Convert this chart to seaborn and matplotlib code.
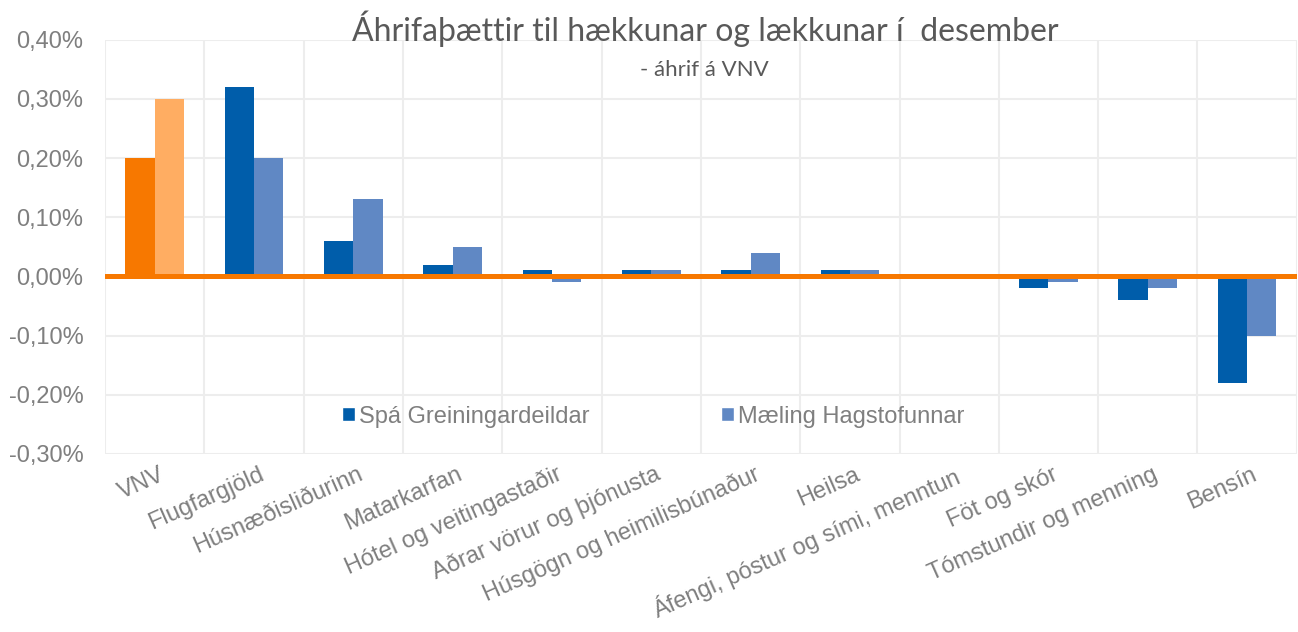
import numpy as np
import pandas as pd
import matplotlib
matplotlib.use("Agg")
import matplotlib.pyplot as plt
from matplotlib.patches import Patch
import seaborn as sns

# data (percent of CPI)
categories = ["VNV", "Flugfargjöld", "Húsnæðisliðurinn", "Matarkarfan",
              "Hótel og veitingastaðir", "Aðrar vörur og þjónusta",
              "Húsgögn og heimilisbúnaður", "Heilsa",
              "Áfengi, póstur og sími, menntun", "Föt og skór",
              "Tómstundir og menning", "Bensín"]
spa = [0.20, 0.32, 0.06, 0.02, 0.01, 0.01, 0.01, 0.01, 0.0, -0.02, -0.04, -0.18]
maeling = [0.30, 0.20, 0.13, 0.05, -0.01, 0.01, 0.04, 0.01, 0.0, -0.01, -0.02, -0.10]
series_names = ["Spá Greiningardeildar", "Mæling Hagstofunnar"]
yticks = [-0.30, -0.20, -0.10, 0.0, 0.10, 0.20, 0.30, 0.40]

dark_blue = "#005DAA"
light_blue = "#6088C4"
orange = "#F77800"
light_orange = "#FFAD62"
grid_col = "#EDEDED"
text_col = "#7F7F7F"

df = pd.DataFrame({
    "flokkur": categories * 2,
    "rod": [series_names[0]] * len(categories) + [series_names[1]] * len(categories),
    "gildi": spa + maeling,
})

sns.set_style("white")
plt.rcParams["font.family"] = ["Liberation Sans", "DejaVu Sans"]

fig = plt.figure(figsize=(12.98, 6.32), dpi=100)
ax = fig.add_axes([0.081, 0.282, 0.918, 0.655])

sns.barplot(data=df, x="flokkur", y="gildi", hue="rod", order=categories,
            hue_order=series_names, palette=[dark_blue, light_blue],
            width=0.59, gap=0, linewidth=0, saturation=1, ax=ax, legend=False)

# VNV bars are orange in the original
ax.containers[0][0].set_facecolor(orange)
ax.containers[1][0].set_facecolor(light_orange)

ax.set_xlim(-0.5, len(categories) - 0.5)
ax.set_ylim(-0.30, 0.40)
ax.set_yticks(yticks)
ax.set_yticklabels([f"{v:.2f}%".replace(".", ",") for v in yticks])
ax.set_xticks(range(len(categories)))
ax.set_xticklabels(categories, rotation=24, ha="right", rotation_mode="anchor")
ax.set_xticks(np.arange(-0.5, len(categories), 1.0), minor=True)

ax.tick_params(axis="both", which="both", length=0, colors=text_col)
ax.tick_params(axis="y", labelsize=17, pad=15.5)
ax.tick_params(axis="x", labelsize=17, pad=7)
for t in ax.get_xticklabels():
    t.set_transform(t.get_transform() + matplotlib.transforms.ScaledTranslation(0.04, 0, fig.dpi_scale_trans))

ax.grid(axis="y", which="major", color=grid_col, lw=1.5)
ax.grid(axis="x", which="minor", color=grid_col, lw=1.5)
ax.grid(axis="x", which="major", visible=False)
ax.set_axisbelow(True)
for s in ax.spines.values():
    s.set_visible(False)

ax.axhline(0, color=orange, lw=3.6, zorder=5)

ax.set_xlabel("")
ax.set_ylabel("")

handles = [Patch(facecolor=dark_blue), Patch(facecolor=light_blue)]
ax.legend(handles, series_names, loc="center", bbox_to_anchor=(0.46, 0.09),
          ncol=2, frameon=False, fontsize=17, labelcolor=text_col,
          handlelength=0.55, handleheight=0.55, handletextpad=0.17,
          columnspacing=5.6)

fig.text(0.543, 0.955, "Áhrifaþættir til hækkunar og lækkunar í  desember",
         ha="center", va="center", fontsize=23, color="#595959",
         family=["Lato", "DejaVu Sans"])
fig.text(0.543, 0.889, "- áhrif á VNV", ha="center", va="center",
         fontsize=16, color="#595959", family=["Lato", "DejaVu Sans"])

fig.savefig("out.png", dpi=100)
